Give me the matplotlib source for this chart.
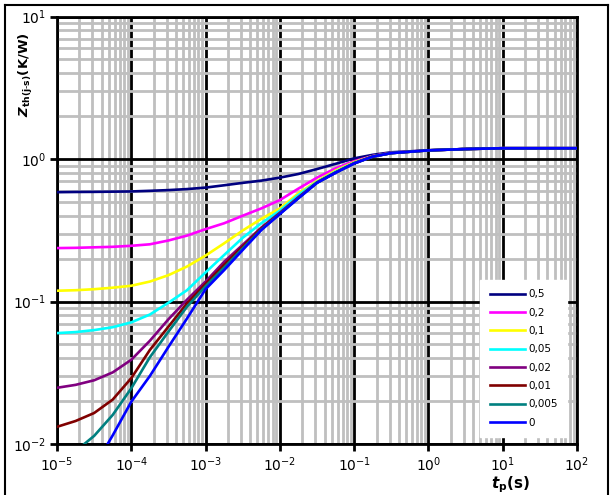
import numpy as np
import matplotlib.pyplot as plt
import matplotlib.ticker as mticker
from matplotlib.lines import Line2D

# tiempos (log10 de tp en s)
log_tp = [-5, -4.75, -4.5, -4.25, -4, -3.75, -3.5, -3.25, -3, -2.75, -2.5,
          -2.25, -2, -1.75, -1.5, -1.25, -1, -0.75, -0.5, 0, 0.5, 1, 1.5, 2]

nan = np.nan
z_05 = [0.585, 0.587, 0.588, 0.59, 0.592, 0.598, 0.605, 0.615, 0.63, 0.654, 0.68,
        0.705, 0.74, 0.785, 0.85, 0.925, 1.01, 1.07, 1.115, 1.15, 1.175, 1.19, 1.19, 1.19]
z_02 = [0.237, 0.238, 0.24, 0.242, 0.246, 0.252, 0.268, 0.29, 0.322, 0.354, 0.40,
        0.45, 0.515, 0.62, 0.74, 0.86, 0.965, 1.05, 1.105, 1.15, 1.175, 1.19, 1.19, 1.19]
z_01 = [0.119, 0.12, 0.122, 0.125, 0.129, 0.138, 0.153, 0.176, 0.21, 0.256, 0.315,
        0.38, 0.45, 0.575, 0.70, 0.83, 0.95, 1.045, 1.1, 1.15, 1.175, 1.19, 1.19, 1.19]
z_005 = [0.060, 0.061, 0.063, 0.066, 0.0714, 0.081, 0.098, 0.12, 0.16, 0.212, 0.28,
         0.354, 0.434, 0.56, 0.69, 0.815, 0.94, 1.04, 1.1, 1.15, 1.175, 1.19, 1.19, 1.19]
z_002 = [0.0248, 0.026, 0.028, 0.0318, 0.039, 0.053, 0.075, 0.103, 0.138, 0.19, 0.25,
         0.33, 0.42, 0.54, 0.685, 0.805, 0.935, 1.04, 1.1, 1.15, 1.175, 1.19, 1.19, 1.19]
z_001 = [0.0132, 0.0145, 0.0165, 0.0205, 0.029, 0.0457, 0.0666, 0.097, 0.133, 0.181, 0.243,
         0.325, 0.415, 0.535, 0.683, 0.803, 0.932, 1.04, 1.1, 1.15, 1.175, 1.19, 1.19, 1.19]
z_0005 = [nan, 0.0089, 0.0114, 0.016, 0.0246, 0.0406, 0.0614, 0.092, 0.128, 0.173, 0.236,
          0.32, 0.413, 0.532, 0.681, 0.801, 0.931, 1.04, 1.1, 1.15, 1.175, 1.19, 1.19, 1.19]
z_0 = [nan, nan, 0.0069, 0.0115, 0.0198, 0.030, 0.048, 0.076, 0.122, 0.166, 0.23,
       0.317, 0.411, 0.53, 0.68, 0.80, 0.93, 1.04, 1.1, 1.15, 1.175, 1.19, 1.19, 1.19]

series = [z_05, z_02, z_01, z_005, z_002, z_001, z_0005, z_0]
etiquetas = ['0,5', '0,2', '0,1', '0,05', '0,02', '0,01', '0,005', '0']
colores = ['#000080', '#FF00FF', '#FFFF00', '#00FFFF',
           '#800080', '#800000', '#008080', '#0000FF']

x_ticks = [1e-5, 1e-4, 1e-3, 1e-2, 1e-1, 1e0, 1e1, 1e2]
y_ticks = [1e-2, 1e-1, 1e0, 1e1]

tp = 10.0 ** np.array(log_tp)

fig = plt.figure(figsize=(6.13, 4.95), dpi=100)
ax = fig.add_axes([57 / 613, 51 / 495, 520 / 613, 427.5 / 495])

for z, c, lab in zip(series, colores, etiquetas):
    ax.plot(tp, z, color=c, lw=1.9, label=lab, zorder=3)

ax.set_xscale('log')
ax.set_yscale('log')
ax.set_xlim(1e-5, 1e2)
ax.set_ylim(1e-2, 1e1)

# rejilla: menores en gris, mayores en negro
ax.xaxis.set_major_locator(mticker.FixedLocator(x_ticks))
ax.yaxis.set_major_locator(mticker.FixedLocator(y_ticks))
ax.xaxis.set_major_formatter(mticker.LogFormatterSciNotation())
ax.yaxis.set_major_formatter(mticker.LogFormatterSciNotation())
ax.xaxis.set_minor_locator(mticker.LogLocator(base=10, subs=np.arange(2, 10), numticks=20))
ax.yaxis.set_minor_locator(mticker.LogLocator(base=10, subs=np.arange(2, 10), numticks=20))
ax.xaxis.set_minor_formatter(mticker.NullFormatter())
ax.yaxis.set_minor_formatter(mticker.NullFormatter())
ax.grid(True, which='minor', color='#BFBFBF', lw=2.0, zorder=1)
ax.grid(True, which='major', color='black', lw=2.0, zorder=2)
ax.set_axisbelow(True)
ax.tick_params(which='minor', length=0)
ax.tick_params(which='major', length=5, width=2, labelsize=10, direction='out', pad=3)
for s in ax.spines.values():
    s.set_linewidth(2)

ax.set_xlabel(r'$\mathbfit{t}_{\mathbf{p}}\mathbf{(s)}$', fontsize=11)
ax.xaxis.set_label_coords(0.872, -0.07)
ax.set_ylabel(r'$\mathbfit{Z}_{\mathbf{th(j}\text{-}\mathbf{s)}}\mathbf{(K/W)}$', fontsize=9.5)
ax.yaxis.set_label_coords(-0.042, 0.865)

leg = ax.legend(loc='lower right', bbox_to_anchor=(0.981, 0.016), fontsize=7.5,
                frameon=True, fancybox=False, edgecolor='white', framealpha=1,
                handlelength=3.4, labelspacing=0.8, handletextpad=0.3,
                borderpad=0.9, borderaxespad=0)

# marco exterior
for xs, ys in [([5 / 613, 5 / 613], [0, 1 - 5 / 495]),
               ([5 / 613, 608 / 613], [1 - 5 / 495, 1 - 5 / 495]),
               ([608 / 613, 608 / 613], [0, 1 - 5 / 495])]:
    fig.add_artist(Line2D(xs, ys, color='black', lw=1.5, transform=fig.transFigure))

fig.savefig('out.png', dpi=100)
